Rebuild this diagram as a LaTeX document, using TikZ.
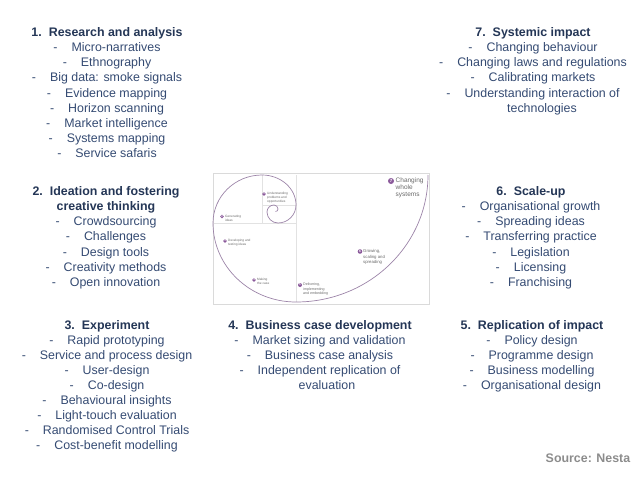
\documentclass[tikz,border=0pt]{standalone}
\usepackage{fontspec}
\setmainfont{Liberation Sans}
\definecolor{itemc}{HTML}{344A72}
\definecolor{headc}{HTML}{243656}
\definecolor{srcc}{HTML}{8C8C8C}
\definecolor{purp}{HTML}{8B5A9B}
\definecolor{spirc}{HTML}{9C84A8}
\definecolor{gridc}{HTML}{E2E2E2}
\definecolor{framec}{HTML}{DADADA}
\definecolor{slabc}{HTML}{6A6A6A}
\newcommand\itm{-\hspace{14pt}}
\newcommand\hd[1]{\textcolor{headc}{\bfseries #1}}
\begin{document}
\begin{tikzpicture}[x=1pt,y=-1pt,
  blk/.style={align=center, inner sep=0pt, anchor=north, text=itemc,
    font=\fontsize{12.4}{15.1}\selectfont},
  num/.style={circle, fill=purp, text=white, inner sep=0pt},
  slab/.style={align=left, inner sep=0pt, anchor=north west, text=slabc},
  spir/.style={draw=spirc, line width=0.7pt},
  gridline/.style={draw=gridc, line width=0.5pt}]
\useasboundingbox (0,0) rectangle (638,479);
% text blocks
\node[blk] (b1) at (107,27.5) {\hd{1.\hspace{7pt}Research and analysis}\\
\itm Micro-narratives\\
\itm Ethnography\\
\itm Big data: smoke signals\\
\itm Evidence mapping\\
\itm Horizon scanning\\
\itm Market intelligence\\
\itm Systems mapping\\
\itm Service safaris};
\node[blk] (b2) at (106,186.5) {\hd{2.\hspace{7pt}Ideation and fostering}\\
\hd{creative thinking}\\
\itm Crowdsourcing\\
\itm Challenges\\
\itm Design tools\\
\itm Creativity methods\\
\itm Open innovation};
\node[blk] (b3) at (107,320) {\hd{3.\hspace{7pt}Experiment}\\
\itm Rapid prototyping\\
\itm Service and process design\\
\itm User-design\\
\itm Co-design\\
\itm Behavioural insights\\
\itm Light-touch evaluation\\
\itm Randomised Control Trials\\
\itm Cost-benefit modelling};
\node[blk] (b4) at (320,320) {\hd{4.\hspace{7pt}Business case development}\\
\itm Market sizing and validation\\
\itm Business case analysis\\
\itm Independent replication of\\
\hspace*{14pt}evaluation};
\node[blk] (b5) at (532,320) {\hd{5.\hspace{7pt}Replication of impact}\\
\itm Policy design\\
\itm Programme design\\
\itm Business modelling\\
\itm Organisational design};
\node[blk] (b6) at (531,186.5) {\hd{6.\hspace{7pt}Scale-up}\\
\itm Organisational growth\\
\itm Spreading ideas\\
\itm Transferring practice\\
\itm Legislation\\
\itm Licensing\\
\itm Franchising};
\node[blk] (b7) at (533,27.5) {\hd{7.\hspace{7pt}Systemic impact}\\
\itm Changing behaviour\\
\itm Changing laws and regulations\\
\itm Calibrating markets\\
\itm Understanding interaction of\\
\hspace*{18pt}technologies};
\node[inner sep=0pt, text=srcc, font=\fontsize{12.4}{15}\selectfont\bfseries] (src) at (588,458) {Source: Nesta};
% spiral picture
\draw[draw=framec, line width=0.6pt] (213,173) rectangle (429,304);
\draw[gridline] (296,175) -- (296,302);
\draw[gridline] (213,223) -- (296,223);
\draw[gridline] (262,175) -- (262,223);
\draw[gridline] (262,205) -- (296,205);
\draw[spir] (428,175)
  arc[start angle=0,end angle=90,x radius=132,y radius=127]
  arc[start angle=90,end angle=180,x radius=83,y radius=79]
  arc[start angle=180,end angle=270,x radius=49,y radius=48]
  arc[start angle=270,end angle=360,x radius=34,y radius=30]
  arc[start angle=0,end angle=90,radius=18]
  arc[start angle=90,end angle=180,radius=11]
  arc[start angle=180,end angle=270,radius=7]
  arc[start angle=270,end angle=360,radius=4]
  arc[start angle=0,end angle=90,radius=2.5];
% spiral labels
\node[num, minimum size=3.6pt, font=\fontsize{2.6}{3}\selectfont\bfseries] (n1) at (264,194) {1};
\node[slab, font=\fontsize{3.2}{3.8}\selectfont] (l1) at (267,192.3) {Understanding\\problems and\\opportunities};
\node[num, minimum size=3.6pt, font=\fontsize{2.6}{3}\selectfont\bfseries] (n2) at (222,216.5) {2};
\node[slab, font=\fontsize{3.2}{4.2}\selectfont] (l2) at (225,214.8) {Generating\\ideas};
\node[num, minimum size=3.6pt, font=\fontsize{2.6}{3}\selectfont\bfseries] (n3) at (225,241) {3};
\node[slab, font=\fontsize{3.2}{3.8}\selectfont] (l3) at (228,239.3) {Developing and\\testing ideas};
\node[num, minimum size=3.6pt, font=\fontsize{2.6}{3}\selectfont\bfseries] (n4) at (254,280) {4};
\node[slab, font=\fontsize{3.2}{4}\selectfont] (l4) at (257,278.3) {Making\\the case};
\node[num, minimum size=4pt, font=\fontsize{2.8}{3}\selectfont\bfseries] (n5) at (300,285) {5};
\node[slab, font=\fontsize{3.6}{4.5}\selectfont] (l5) at (303,283) {Delivering,\\implementing\\and embedding};
\node[num, minimum size=4.6pt, font=\fontsize{3.2}{3.5}\selectfont\bfseries] (n6) at (360,251.5) {6};
\node[slab, font=\fontsize{4.3}{5.3}\selectfont] (l6) at (363,249.5) {Growing,\\scaling and\\spreading};
\node[num, minimum size=6pt, font=\fontsize{4.5}{5}\selectfont\bfseries] (n7) at (391,181) {7};
\node[slab, font=\fontsize{6.5}{7.3}\selectfont] (l7) at (395.5,177.3) {Changing\\whole\\systems};
\end{tikzpicture}
\end{document}
